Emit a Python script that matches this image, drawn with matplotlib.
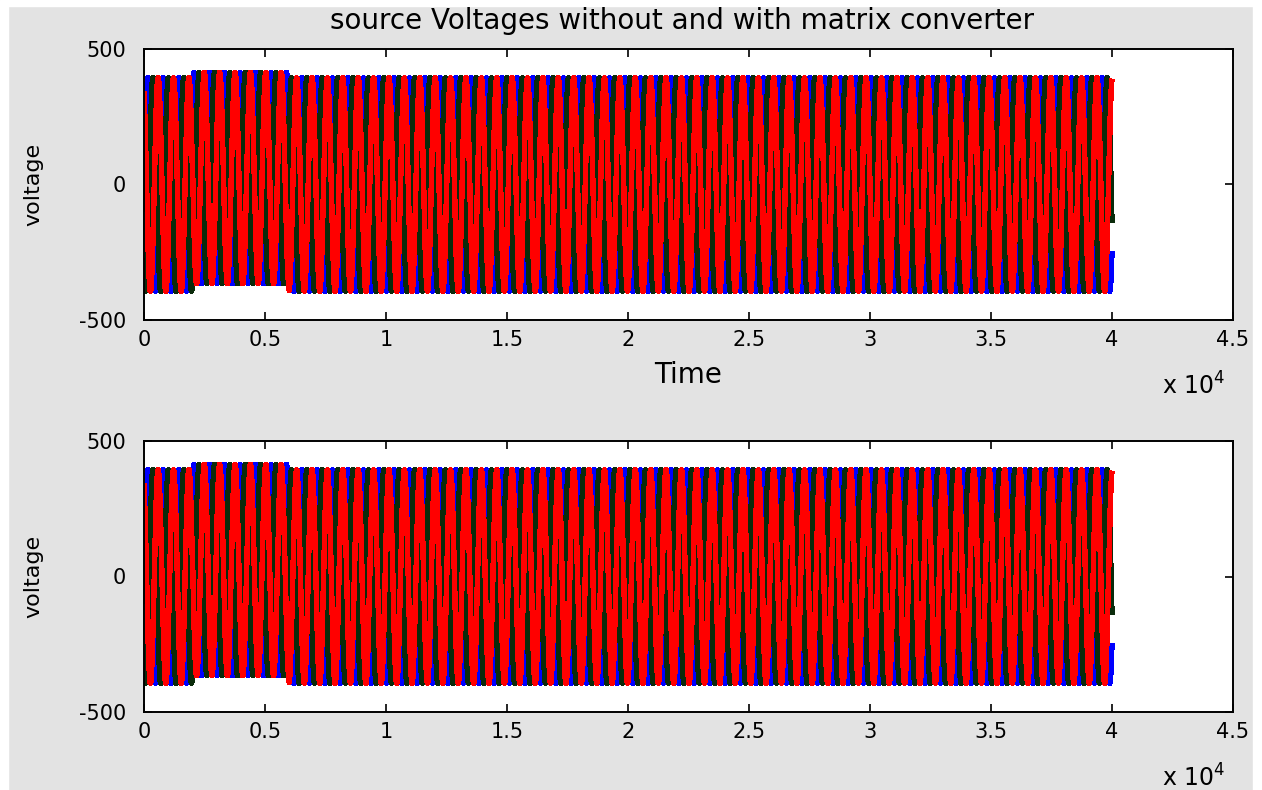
import numpy as np
import matplotlib
matplotlib.use("Agg")
import matplotlib.pyplot as plt
from matplotlib.patches import Rectangle

# Paramètres du signal triphasé
n_samples = 40000
samples_per_cycle = 636
seg_bounds = [0, 2000, 6000, 40000]
seg_amplitude = [394, 390, 394]
seg_offset = [0, 24, 0]
phase_deg = [0, -120, 120]
phase_colors = ['#0000ff', '#0b2b0b', '#ff0000']
phase_widths = [3.2, 3.2, 3.2]

x_ticks = [0, 5000, 10000, 15000, 20000, 25000, 30000, 35000, 40000, 45000]
x_ticklabels = ['0', '0.5', '1', '1.5', '2', '2.5', '3', '3.5', '4', '4.5']
y_ticks = [-500, 0, 500]
y_ticklabels = ['-500', '0', '500']

W, H = 1262, 790
FS = 15


def build_phases():
    t = np.arange(n_samples)
    amp = np.zeros(n_samples)
    off = np.zeros(n_samples)
    for i in range(len(seg_amplitude)):
        amp[seg_bounds[i]:seg_bounds[i + 1]] = seg_amplitude[i]
        off[seg_bounds[i]:seg_bounds[i + 1]] = seg_offset[i]
    phases = []
    for ph in phase_deg:
        phases.append(off + amp * np.sin(2 * np.pi * t / samples_per_cycle + np.deg2rad(ph)))
    return t, phases


def style_axes(ax):
    ax.set_xlim(0, 45000)
    ax.set_ylim(-500, 500)
    ax.set_xticks(x_ticks)
    ax.set_xticklabels(x_ticklabels)
    ax.set_yticks(y_ticks)
    ax.set_yticklabels(y_ticklabels)
    ax.tick_params(direction='in', length=6, width=1.2, top=True, right=True,
                   labelsize=FS, colors='black')
    ax.tick_params(axis='x', pad=7)
    ax.tick_params(axis='y', pad=13)
    for s in ax.spines.values():
        s.set_linewidth(1.4)
        s.set_color('black')
    ax.set_facecolor('white')
    ax.set_ylabel('voltage', fontsize=16)
    ax.yaxis.set_label_coords(-0.092, 0.5)
    ax.text(0.993, -0.245, r'x 10$^4$', transform=ax.transAxes, ha='right', va='center',
            fontsize=17)


t, phases = build_phases()

fig = plt.figure(figsize=(W / 100, H / 100), dpi=100)
fig.patch.set_facecolor('#e3e3e3')
# bords blancs de la capture
fig.patches.append(Rectangle((0, 1 - 6 / H), 1, 6 / H, transform=fig.transFigure,
                             color='white', zorder=-1))
fig.patches.append(Rectangle((0, 0), 8 / W, 1, transform=fig.transFigure,
                             color='white', zorder=-1))
fig.patches.append(Rectangle((1 - 9 / W, 0), 9 / W, 1, transform=fig.transFigure,
                             color='white', zorder=-1))

left = 144 / W
width = (1233 - 144) / W
ax1 = fig.add_axes([left, 1 - 320 / H, width, 271 / H])
ax2 = fig.add_axes([left, 1 - 712 / H, width, 271 / H])

for ax in (ax1, ax2):
    for v, c, lw in zip(phases, phase_colors, phase_widths):
        ax.plot(t, v, color=c, lw=lw, antialiased=False, solid_capstyle='butt')
    style_axes(ax)

ax1.set_xlabel('Time', fontsize=20, labelpad=8)
fig.text(682 / W, 1 - 21 / H, 'source Voltages without and with matrix converter',
         ha='center', va='center', fontsize=20)

fig.savefig('out.png', dpi=100, facecolor=fig.get_facecolor())
